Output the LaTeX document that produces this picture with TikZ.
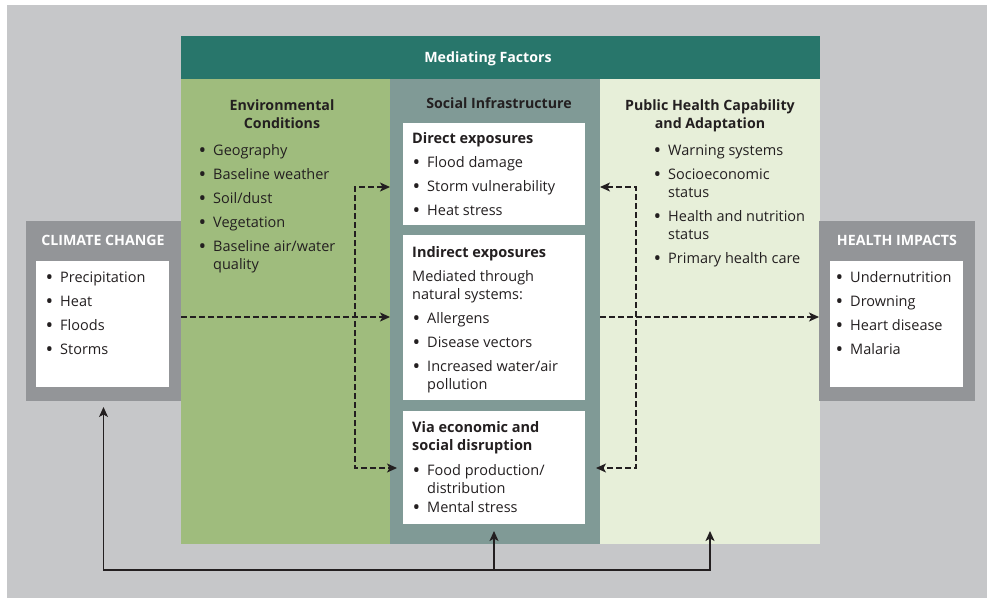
\documentclass[tikz,border=0pt]{standalone}
\usepackage{fontspec}
\setmainfont{Open Sans}
\usetikzlibrary{arrows.meta}

\definecolor{bggray}{HTML}{C6C7C9}
\definecolor{headteal}{HTML}{28766B}
\definecolor{envgreen}{HTML}{9FBC7D}
\definecolor{socteal}{HTML}{809A96}
\definecolor{publight}{HTML}{E7EFD9}
\definecolor{boxgray}{HTML}{939598}
\definecolor{ink}{HTML}{231F20}

% bullet with a fixed indent
\newcommand{\bul}{\makebox[15pt][l]{\hspace{0.5pt}\raisebox{-0.14em}{\scalebox{1.4}{\textbullet}}}}
\newcommand{\cont}{\hspace*{15pt}}

\tikzset{
  panel/.style={anchor=north west, inner sep=0pt, outer sep=0pt},
  heading/.style={anchor=base, align=center, inner sep=0pt, font=\fontsize{14.2}{18}\selectfont\bfseries, text=ink},
  caps/.style={anchor=base, inner sep=0pt, font=\fontsize{14.2}{18}\selectfont\bfseries, text=white},
  items/.style={anchor=base west, align=left, inner sep=0pt, font=\fontsize{14.5}{18}\selectfont, text=ink},
  dashline/.style={draw=ink, line width=1.1pt, dash pattern=on 6pt off 3pt},
  solidline/.style={draw=ink, line width=1.2pt},
  bothtips/.style={{Stealth[length=10pt,width=9pt,inset=2.5pt]}-{Stealth[length=10pt,width=9pt,inset=2.5pt]}},
}

\begin{document}
\begin{tikzpicture}[x=1pt,y=-1pt]
  \useasboundingbox (0,0) rectangle (987,598);
  \fill[white] (0,0) rectangle (987,598);
  \fill[bggray] (7,5) rectangle (987,598);

  % mediating factors block
  \node[panel, fill=headteal, minimum width=639pt, minimum height=43pt] (header) at (181,36) {};
  \node[panel, fill=envgreen, minimum width=209pt, minimum height=465pt] (env) at (181,79) {};
  \node[panel, fill=socteal, minimum width=210pt, minimum height=465pt] (social) at (390,79) {};
  \node[panel, fill=publight, minimum width=220pt, minimum height=465pt] (pub) at (600,79) {};

  % side boxes
  \node[panel, fill=boxgray, minimum width=155pt, minimum height=180pt] (cc) at (26,221) {};
  \node[panel, fill=white, minimum width=133pt, minimum height=126pt] (ccin) at (36,261) {};
  \node[panel, fill=boxgray, minimum width=156pt, minimum height=180pt] (hi) at (819,221) {};
  \node[panel, fill=white, minimum width=133pt, minimum height=126pt] (hiin) at (830,261) {};

  % exposure boxes
  \node[panel, fill=white, minimum width=182pt, minimum height=102pt] (direct) at (403,123) {};
  \node[panel, fill=white, minimum width=182pt, minimum height=165pt] (indirect) at (403,235) {};
  \node[panel, fill=white, minimum width=182pt, minimum height=113pt] (via) at (403,411) {};

  % texts (base = last line)
  \node[caps] (headtext) at (488,62) {Mediating Factors};
  \node[heading] (envhead) at (282,128) {Environmental\\Conditions};
  \node[heading] (sochead) at (499,108) {Social Infrastructure};
  \node[heading] (pubhead) at (710,128) {Public Health Capability\\and Adaptation};

  \node[items] (envlist) at (198,269) {\bul Geography\\[6pt]
    \bul Baseline weather\\[6pt] \bul Soil/dust\\[6pt] \bul Vegetation\\[6pt]
    \bul Baseline air/water\\ \cont quality};
  \node[items] (publist) at (653,263) {\bul Warning systems\\[6pt]
    \bul Socioeconomic\\ \cont status\\[6pt] \bul Health and nutrition\\ \cont status\\[6pt]
    \bul Primary health care};

  \node[items] (directtext) at (412,215) {\textbf{Direct exposures}\\[6pt]
    \bul Flood damage\\[6pt] \bul Storm vulnerability\\[6pt] \bul Heat stress};
  \node[items] (indirecttext) at (412,389) {\textbf{Indirect exposures}\\[6pt]
    Mediated through\\ natural systems:\\[6pt] \bul Allergens\\[6pt]
    \bul Disease vectors\\[6pt] \bul Increased water/air\\ \cont pollution};
  \node[items] (viatext) at (412,512) {\textbf{Via economic and}\\ \textbf{social disruption}\\[7pt]
    \bul Food production/\\ \cont distribution\\[1pt] \bul Mental stress};

  \node[caps] (cchead) at (103,245) {CLIMATE CHANGE};
  \node[items] (cclist) at (45,354) {\bul Precipitation\\[6pt] \bul Heat\\[6pt]
    \bul Floods\\[6pt] \bul Storms};
  \node[caps] (hihead) at (897,245) {HEALTH IMPACTS};
  \node[items] (hilist) at (835,354) {\bul Undernutrition\\[6pt] \bul Drowning\\[6pt]
    \bul Heart disease\\[6pt] \bul Malaria};

  % connectors
  \coordinate (flow) at (0,317);
  \coordinate (upper) at (0,187);
  \coordinate (lower) at (0,468);
  \coordinate (lbus) at (355,0);
  \coordinate (rbus) at (636,0);
  \coordinate (base) at (0,570);
  \coordinate (tipline) at (0,531);

  \draw[dashline, -{Stealth[length=10pt,width=9pt,inset=2.5pt]}] (cc.east |- flow) -- (social.west |- flow);
  \draw[dashline, -{Stealth[length=10pt,width=9pt,inset=2.5pt]}] (social.east |- flow) -- (hi.west |- flow);
  \draw[dashline, bothtips] (social.west |- upper) -- (lbus |- upper) -- (lbus |- lower)
    -- ([xshift=-6pt]via.west |- lower);
  \draw[dashline, bothtips] (social.east |- upper) -- (rbus |- upper) -- (rbus |- lower)
    -- ([xshift=11pt]via.east |- lower);

  \draw[solidline, bothtips] ([yshift=-6pt]cc.south) -- (cc.south |- base) -- (pub.south |- base)
    -- (pub.south |- tipline);
  \draw[solidline, -{Stealth[length=10pt,width=9pt,inset=2.5pt]}] (via.south |- base) -- (via.south |- tipline);
\end{tikzpicture}
\end{document}
